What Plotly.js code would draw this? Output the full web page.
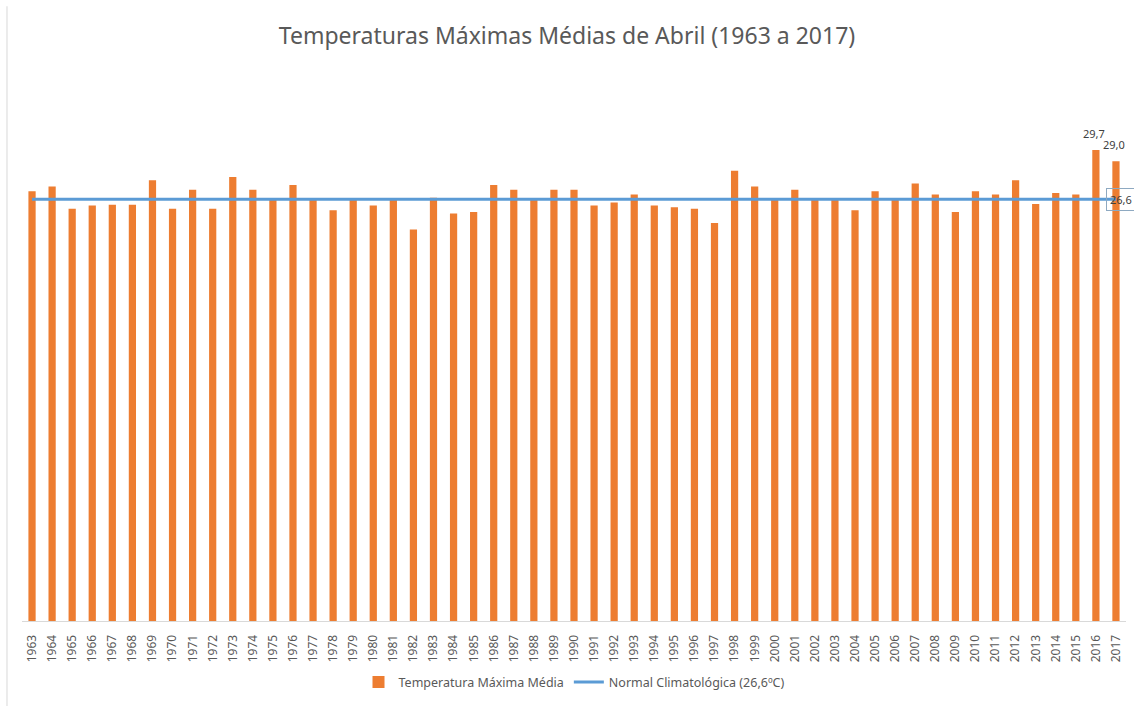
<!DOCTYPE html>
<html>
<head>
<meta charset="utf-8">
<script src="https://cdn.plot.ly/plotly-3.0.1.min.js"></script>
<style>html,body{margin:0;padding:0;background:#fff;}#chart{width:1134px;height:706px;}</style>
</head>
<body>
<div id="chart"></div>
<script>
const years = ['1963','1964','1965','1966','1967','1968','1969','1970','1971','1972','1973','1974','1975','1976','1977','1978','1979','1980','1981','1982','1983','1984','1985','1986','1987','1988','1989','1990','1991','1992','1993','1994','1995','1996','1997','1998','1999','2000','2001','2002','2003','2004','2005','2006','2007','2008','2009','2010','2011','2012','2013','2014','2015','2016','2017'];
const tmax = [27.1,27.4,26.0,26.2,26.25,26.25,27.8,26.0,27.2,26.0,28.0,27.2,26.6,27.5,26.6,25.9,26.6,26.2,26.6,24.7,26.7,25.7,25.8,27.5,27.2,26.6,27.2,27.2,26.2,26.4,26.9,26.2,26.1,26.0,25.1,28.4,27.4,26.6,27.2,26.6,26.6,25.9,27.1,26.6,27.6,26.9,25.8,27.1,26.9,27.8,26.3,27.0,26.9,29.7,29.0];
const normal = 26.6;
const normalSeries = years.map(() => normal);
const labelledYears = ['2016','2017'];
const barName = 'Temperatura Máxima Média';
const lineName = 'Normal Climatológica (26,6ºC)';
const titleText = 'Temperaturas Máximas Médias de Abril (1963 a 2017)';

const fmt = v => v.toFixed(1).replace('.', ',');

const annotations = [];
years.forEach((y, i) => {
  if (labelledYears.includes(y)) {
    annotations.push({x: i, y: tmax[i], text: fmt(tmax[i]), showarrow: false, yanchor: 'bottom', yshift: 7, xshift: -2,
      font: {family: 'Noto Sans, sans-serif', size: 11, color: '#404040'}});
  }
});
annotations.push({x: years.length - 1, y: normal, text: fmt(normal), showarrow: false, xshift: 5,
  bordercolor: '#8EA9C1', borderwidth: 1, borderpad: 3,
  font: {family: 'Noto Sans, sans-serif', size: 11, color: '#404040'}});

const traces = [
  {type: 'bar', x: years, y: tmax, name: barName, marker: {color: '#ED7D31'}, hoverinfo: 'x+y'},
  {type: 'scatter', mode: 'lines', x: years, y: normalSeries, name: lineName, line: {color: '#5B9BD5', width: 3}}
];

const layout = {
  width: 1134, height: 706,
  margin: {l: 22, r: 8, t: 100, b: 74},
  paper_bgcolor: '#fff', plot_bgcolor: '#fff',
  separators: ', ',
  bargap: 0.64,
  title: {text: titleText, x: 0.5, xanchor: 'center', y: 0.949, yanchor: 'middle',
    font: {family: 'Noto Sans, sans-serif', size: 23, color: '#595959'}},
  xaxis: {type: 'category', range: [-0.5, years.length - 0.5], tickangle: -90, showgrid: false, showline: true, linecolor: '#d9d9d9', linewidth: 1,
    ticks: '', ticklabelstandoff: 8, automargin: false, tickfont: {family: 'Noto Sans, sans-serif', size: 12, color: '#595959'}},
  yaxis: {range: [0, 32.86], visible: false, showgrid: false, zeroline: false, fixedrange: true},
  showlegend: true,
  legend: {orientation: 'h', x: 0.5, xanchor: 'center', y: -0.118, yanchor: 'middle',
    font: {family: 'Noto Sans, sans-serif', size: 12.5, color: '#595959'}, itemwidth: 30, traceorder: 'normal'},
  annotations: annotations,
  shapes: [{type: 'line', xref: 'paper', yref: 'paper', x0: -0.0136, x1: -0.0136, y0: -0.3, y1: 1.18, line: {color: '#d9d9d9', width: 1}}]
};

Plotly.newPlot('chart', traces, layout, {displayModeBar: false, staticPlot: true});
</script>
</body>
</html>
